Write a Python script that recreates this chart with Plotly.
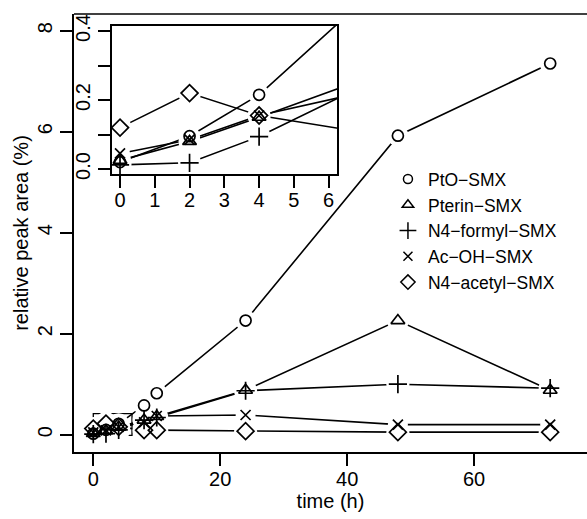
import plotly.graph_objects as go

# ---- data ----
time_h = [0, 2, 4, 8, 10, 24, 48, 72]
series_names = ["PtO−SMX", "Pterin−SMX", "N4−formyl−SMX", "Ac−OH−SMX", "N4−acetyl−SMX"]
pto_smx = [0.02, 0.095, 0.215, 0.58, 0.82, 2.26, 5.92, 7.35]
pterin_smx = [0.025, 0.08, 0.15, 0.29, 0.36, 0.88, 2.26, 0.88]
n4_formyl_smx = [0.012, 0.018, 0.094, 0.29, 0.34, 0.87, 1.0, 0.92]
ac_oh_smx = [0.045, 0.085, 0.155, 0.245, 0.37, 0.39, 0.2, 0.2]
n4_acetyl_smx = [0.12, 0.22, 0.155, 0.09, 0.09, 0.07, 0.05, 0.05]

main_xticks = [0, 20, 40, 60]
main_yticks = [0, 2, 4, 6, 8]
inset_xticks = [0, 1, 2, 3, 4, 5, 6]
inset_yticks = [0.0, 0.1, 0.2, 0.3, 0.4]
inset_yticktext = ["0.0", "", "0.2", "", "0.4"]

values = [pto_smx, pterin_smx, n4_formyl_smx, ac_oh_smx, n4_acetyl_smx]
symbols = ["circle-open", "triangle-up-open", "cross-thin-open", "x-thin-open", "diamond-open"]
plot_sizes = [11, 12, 13, 10, 13]
legend_sizes = [9, 10, 12, 9, 11]

FONT = "Liberation Sans, Arial, Helvetica, sans-serif"
LW = 1.6

fig = go.Figure()

axes_pairs = [("x", "y"), ("x2", "y2")]

# lines
for xa, ya in axes_pairs:
    for vals in values:
        fig.add_trace(go.Scatter(x=time_h, y=vals, mode="lines", xaxis=xa, yaxis=ya,
                                 line=dict(color="black", width=LW), showlegend=False,
                                 hoverinfo="skip"))
# white halos (gaps around points, like R type="b")
for xa, ya in axes_pairs:
    for vals, sz in zip(values, plot_sizes):
        fig.add_trace(go.Scatter(x=time_h, y=vals, mode="markers", xaxis=xa, yaxis=ya,
                                 marker=dict(symbol="circle", size=sz + 10, color="white",
                                             line=dict(width=0)),
                                 showlegend=False, hoverinfo="skip"))
# markers
for xa, ya in axes_pairs:
    for name, vals, sym, sz in zip(series_names, values, symbols, plot_sizes):
        fig.add_trace(go.Scatter(x=time_h, y=vals, mode="markers", xaxis=xa, yaxis=ya,
                                 marker=dict(symbol=sym, size=sz, color="black",
                                             line=dict(color="black", width=1.7)),
                                 showlegend=False, name=name))
# legend entries
for i, (name, sym, sz) in enumerate(zip(series_names, symbols, legend_sizes)):
    fig.add_trace(go.Scatter(x=[None], y=[None], mode="markers", name=name,
                             marker=dict(symbol=sym, size=sz, color="black",
                                         line=dict(color="black", width=1.5)),
                             showlegend=True))

axis_common = dict(showgrid=False, zeroline=False, showline=True, linecolor="black",
                   linewidth=1.5, ticks="outside", ticklen=12, tickwidth=1.5,
                   tickcolor="black", automargin=False,
                   tickfont=dict(size=20, color="black", family=FONT))

fig.update_layout(
    width=587, height=519,
    margin=dict(l=74, r=0, t=14, b=67),
    paper_bgcolor="white", plot_bgcolor="white",
    font=dict(family=FONT, color="black", size=20),
    xaxis=dict(domain=[0, 1], range=[-3.04, 77.8], tickvals=main_xticks,
               ticklabelstandoff=-4,
               title=dict(text="time (h)", font=dict(size=20), standoff=4), **axis_common),
    yaxis=dict(domain=[0, 1], range=[-0.343, 8.33], tickvals=main_yticks, tickangle=-90,
               title=dict(text="relative peak area (%)", font=dict(size=20), standoff=0),
               **axis_common),
    xaxis2=dict(domain=[0.0741, 0.5133], range=[-0.23, 6.25], tickvals=inset_xticks,
                ticklabelstandoff=-5, anchor="y2", mirror=True, **axis_common),
    yaxis2=dict(domain=[0.6347, 0.9726], range=[-0.0145, 0.4145], tickvals=inset_yticks,
                ticktext=inset_yticktext, tickangle=-90, anchor="x2", mirror=True,
                **axis_common),
    legend=dict(x=0.612, xanchor="left", y=0.664, yanchor="top",
                font=dict(size=17.5, family=FONT, color="black"),
                bgcolor="rgba(0,0,0,0)", traceorder="normal",
                itemwidth=30),
    showlegend=True,
)

# top border of the main box
fig.add_shape(type="line", xref="paper", yref="paper", x0=0, x1=1, y0=1, y1=1,
              line=dict(color="black", width=1.5))
# rectangle in main panel marking the inset region
fig.add_shape(type="rect", xref="x", yref="y", x0=0, x1=6.1, y0=-0.015, y1=0.415,
              line=dict(color="black", width=1.3), layer="below")

fig.write_html("out.html", config={"displayModeBar": False},
               post_script="document.body.style.margin='0';document.body.style.overflow='hidden';")
